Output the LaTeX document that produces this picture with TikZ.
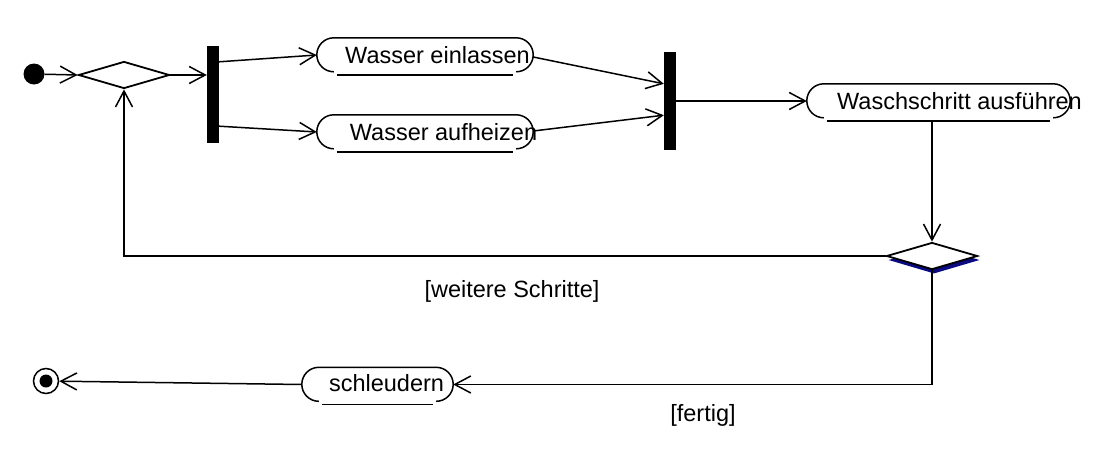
\documentclass[tikz,border=0pt]{standalone}
\usepackage{fontspec}
\setmainfont{Liberation Sans}
\usetikzlibrary{shapes.geometric,arrows.meta,calc}
\definecolor{shadowblue}{RGB}{10,10,130}
\tikzset{
 conn/.style={line width=1.5pt, -{Straight Barb[length=16pt,width=17pt,line width=1.5pt]}},
 actbox/.style={minimum height=34pt, inner sep=0pt},
 actline/.style={line width=1.5pt},
 decision/.style={diamond, draw, line width=1.8pt, fill=white, minimum width=91pt, minimum height=27pt, inner sep=0pt},
 dshadow/.style={diamond, fill=shadowblue, minimum width=91pt, minimum height=27pt, inner sep=0pt},
 syncbar/.style={fill=black, minimum width=12pt, inner sep=0pt},
 lbl/.style={font=\fontsize{23.5}{28}\selectfont, inner sep=0pt}
}
\newcommand\actoutline[1]{%
 \draw[actline] ($(#1.north west)+(17pt,0)$) -- ($(#1.north east)+(-17pt,0)$) arc[start angle=90,end angle=-90,radius=17pt];
 \draw[actline] ($(#1.north west)+(17pt,0)$) arc[start angle=90,end angle=270,radius=17pt];
 \draw[actline] ($(#1.south west)+(20pt,-3pt)$) -- ($(#1.south east)+(-20pt,-3pt)$);
}
\begin{document}
\begin{tikzpicture}[x=1pt,y=1pt]
\useasboundingbox (0,0) rectangle (1115,-452);
% nodes
\node[circle, fill=black, minimum size=21pt, inner sep=0pt] (init) at (34,-74) {};
\node[decision] (d1) at (124,-75) {};
\node[syncbar, minimum height=97pt] (f1) at (213,-94.5) {};
\node[actbox, minimum width=216pt] (we) at (425,-55) {};
\node[actbox, minimum width=216pt] (wa) at (425,-132) {};
\node[syncbar, minimum height=98pt] (f2) at (670,-101) {};
\node[actbox, minimum width=263pt] (ws) at (938.5,-101) {};
\node[dshadow] at (934,-260) {};
\node[decision] (d2) at (932,-256) {};
\node[actbox, minimum width=151pt] (sch) at (377.5,-384.5) {};
\node[circle, draw, line width=1.5pt, minimum size=25pt, inner sep=0pt] (fin) at (46,-381) {};
\fill (fin.center) circle (6.5pt);
\actoutline{we}
\actoutline{wa}
\actoutline{ws}
\actoutline{sch}
\node[lbl] (twe) at (437.5,-55) {Wasser einlassen};
\node[lbl] (twa) at (443.5,-132) {Wasser aufheizen};
\node[lbl] (tws) at (959.5,-101) {Waschschritt ausführen};
\node[lbl] (tsch) at (386.5,-383) {schleudern};
\node[lbl] (lw) at (512,-291) {[weitere Schritte]};
\node[lbl] (lf) at (703,-415) {[fertig]};
% connectors
\draw[conn] (init) -- (d1.west);
\draw[conn] (d1.east) -- (d1.east -| f1.west);
\draw[conn] ($(f1.north east)+(0,-16)$) -- (we.west);
\draw[conn] ($(f1.south east)+(0,17)$) -- (wa.west);
\draw[conn] ($(we.east)+(0,-2)$) -- ($(f2.north west)+(0,-32)$);
\draw[conn] ($(wa.east)+(0,1)$) -- ($(f2.south west)+(0,35)$);
\draw[conn] (f2.east) -- (ws.west);
\draw[conn] ($(d2.north |- ws.south)+(0,-3)$) -- (d2.north);
\draw[conn] (d2.west) -| (d1.south);
\draw[conn] (d2.south) |- (sch.east);
\draw[conn] (sch.west) -- (fin);
\end{tikzpicture}
\end{document}
